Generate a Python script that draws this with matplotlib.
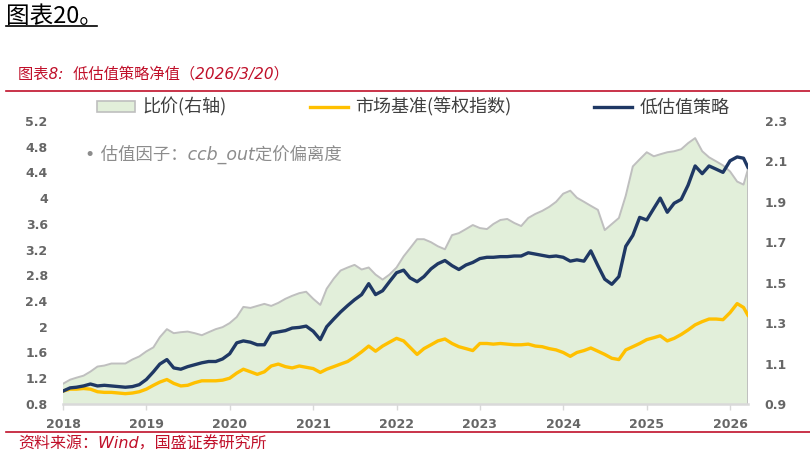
import matplotlib
matplotlib.use("Agg")
import matplotlib.pyplot as plt
from matplotlib.patches import Patch
from matplotlib.lines import Line2D
import pandas as pd

plt.rcParams['font.family'] = ['DejaVu Sans', 'Noto Sans CJK SC']

# month starts 2018-01 .. 2026-03, plus the last day 2026-03-20
dates = list(pd.date_range('2018-01-01', '2026-03-01', freq='MS')) + [pd.Timestamp('2026-03-20')]

# 低估值策略 (left axis)
strategy = [1.00, 1.05, 1.06, 1.08, 1.11, 1.08, 1.09, 1.08, 1.07, 1.06, 1.07, 1.10,
            1.18, 1.30, 1.42, 1.49, 1.36, 1.34, 1.38, 1.41, 1.44, 1.46, 1.46, 1.50,
            1.58, 1.75, 1.78, 1.76, 1.72, 1.72, 1.90, 1.92, 1.94, 1.98, 1.99, 2.01,
            1.93, 1.80, 2.00, 2.12, 2.23, 2.33, 2.42, 2.50, 2.67, 2.50, 2.56, 2.70,
            2.84, 2.88, 2.76, 2.70, 2.78, 2.90, 2.98, 3.03, 2.95, 2.89, 2.96, 3.00,
            3.06, 3.08, 3.08, 3.09, 3.09, 3.10, 3.10, 3.15, 3.13, 3.11, 3.09, 3.10,
            3.08, 3.02, 3.04, 3.02, 3.18, 2.95, 2.74, 2.66, 2.78, 3.25, 3.42, 3.70,
            3.66, 3.84, 4.00, 3.78, 3.92, 3.98, 4.20, 4.50, 4.38, 4.50, 4.45, 4.40,
            4.58, 4.64, 4.62, 4.48]

# 市场基准(等权指数) (left axis)
benchmark = [1.00, 1.03, 1.03, 1.04, 1.03, 0.99, 0.98, 0.98, 0.97, 0.96, 0.97, 0.99,
             1.03, 1.09, 1.14, 1.18, 1.12, 1.08, 1.09, 1.13, 1.16, 1.16, 1.16, 1.17,
             1.20, 1.28, 1.34, 1.30, 1.26, 1.30, 1.39, 1.42, 1.38, 1.36, 1.39, 1.37,
             1.35, 1.29, 1.34, 1.38, 1.42, 1.46, 1.53, 1.61, 1.70, 1.62, 1.70, 1.76,
             1.82, 1.78, 1.68, 1.57, 1.66, 1.72, 1.78, 1.81, 1.74, 1.69, 1.66, 1.63,
             1.74, 1.74, 1.73, 1.74, 1.73, 1.72, 1.72, 1.73, 1.70, 1.69, 1.66, 1.64,
             1.60, 1.54, 1.60, 1.63, 1.67, 1.62, 1.57, 1.51, 1.49, 1.64, 1.69, 1.74,
             1.80, 1.83, 1.86, 1.78, 1.82, 1.88, 1.95, 2.03, 2.08, 2.12, 2.12, 2.11,
             2.22, 2.36, 2.30, 2.18]

# 比价(右轴)
ratio = [1.00, 1.02, 1.03, 1.04, 1.06, 1.085, 1.09, 1.10, 1.10, 1.10, 1.12, 1.135,
         1.16, 1.18, 1.23, 1.27, 1.25, 1.255, 1.258, 1.25, 1.24, 1.255, 1.27, 1.28,
         1.30, 1.33, 1.38, 1.375, 1.385, 1.395, 1.385, 1.40, 1.42, 1.435, 1.448, 1.455,
         1.42, 1.39, 1.47, 1.52, 1.56, 1.575, 1.588, 1.565, 1.575, 1.54, 1.515, 1.54,
         1.575, 1.63, 1.67, 1.715, 1.715, 1.70, 1.68, 1.665, 1.735, 1.745, 1.765, 1.785,
         1.77, 1.765, 1.79, 1.81, 1.815, 1.795, 1.78, 1.82, 1.84, 1.855, 1.875, 1.90,
         1.94, 1.955, 1.92, 1.90, 1.88, 1.86, 1.76, 1.79, 1.82, 1.93, 2.075, 2.11,
         2.145, 2.125, 2.135, 2.145, 2.15, 2.16, 2.19, 2.215, 2.15, 2.12, 2.10, 2.08,
         2.05, 2.00, 1.985, 2.06]

left_ticks = [0.8, 1.2, 1.6, 2, 2.4, 2.8, 3.2, 3.6, 4, 4.4, 4.8, 5.2]
right_ticks = [0.9, 1.1, 1.3, 1.5, 1.7, 1.9, 2.1, 2.3]
years = list(range(2018, 2027))

navy = '#1F3864'
gold = '#FFC000'
grey_line = '#BFBFBF'
green_fill = '#E2EFDA'
red = '#C0102A'
tick_col = '#666666'

fig = plt.figure(figsize=(8.1, 4.58), dpi=100)
ax = fig.add_axes([0.0778, 0.118, 0.8455, 0.618])
ax2 = ax.twinx()

ax2.fill_between(dates, 0.9, ratio, facecolor=green_fill, edgecolor='none')
ax2.plot(dates, ratio, color=grey_line, lw=1.4)
ax2.plot([dates[-1], dates[-1]], [0.9, ratio[-1]], color=grey_line, lw=1.4)

ax.plot(dates, benchmark, color=gold, lw=2.4)
ax.plot(dates, strategy, color=navy, lw=2.4)

ax.set_zorder(ax2.get_zorder() + 1)
ax.patch.set_visible(False)

ax.set_xlim(dates[0], dates[-1])
ax.set_ylim(0.8, 5.2)
ax2.set_ylim(0.9, 2.3)
ax.set_yticks(left_ticks)
ax.set_yticklabels([f'{t:g}' for t in left_ticks])
ax2.set_yticks(right_ticks)
ax2.set_yticklabels([f'{t:g}' for t in right_ticks])
ax.set_xticks([pd.Timestamp(f'{y}-01-01') for y in years])
ax.set_xticklabels([str(y) for y in years])

for a in (ax, ax2):
    for s in a.spines.values():
        s.set_visible(False)
ax.spines['bottom'].set_visible(True)
ax.spines['bottom'].set_color('#D9D9D9')
ax.spines['bottom'].set_linewidth(1.8)

ax.tick_params(axis='y', length=0, pad=11, labelsize=9, labelcolor=tick_col)
ax2.tick_params(axis='y', length=0, pad=12, labelsize=9, labelcolor=tick_col)
ax.tick_params(axis='x', length=4, width=1, color='#D9D9D9', pad=6, labelsize=9, labelcolor=tick_col)
for lab in ax.get_xticklabels() + ax.get_yticklabels() + ax2.get_yticklabels():
    lab.set_fontweight('bold')

handles = [Patch(facecolor=green_fill, edgecolor=grey_line, lw=1.2),
           Line2D([], [], color=gold, lw=2.4),
           Line2D([], [], color=navy, lw=2.4)]
labels = ['比价(右轴)', '市场基准(等权指数)', '低估值策略']
fig.legend(handles, labels, loc='center left', bbox_to_anchor=(0.12, 0.766), ncol=3,
           frameon=False, handlelength=2.1, handleheight=0.55, handletextpad=0.4,
           columnspacing=4.6, borderaxespad=0, borderpad=0,
           prop={'family': ['Noto Sans CJK SC'], 'size': 13}, labelcolor='#404040')

fig.text(0.105, 0.662, '• 估值因子：ccb_out定价偏离度', color='#8C8C8C', fontsize=12.5,
         style='italic', family=['DejaVu Sans', 'Noto Sans CJK SC'], va='center')

# header and footer
fig.text(0.007, 0.963, '图表20。', fontsize=17, family=['Noto Sans CJK SC', 'DejaVu Sans'],
         va='center', ha='left', color='black')
fig.add_artist(Line2D([0.007, 0.12], [0.944, 0.944], color='black', lw=1.2))
fig.text(0.022, 0.838, '图表8:  低估值策略净值（2026/3/20）', fontsize=11, color=red,
         style='italic', family=['DejaVu Sans', 'Noto Sans CJK SC'], va='center')
fig.add_artist(Line2D([0.007, 1.0], [0.802, 0.802], color=red, lw=1.2))
fig.add_artist(Line2D([0.007, 1.0], [0.057, 0.057], color=red, lw=1.2))
fig.text(0.022, 0.03, '资料来源：Wind，国盛证券研究所', fontsize=11.5, color=red,
         style='italic', family=['DejaVu Sans', 'Noto Sans CJK SC'], va='center')

fig.savefig('out.png', dpi=100)
